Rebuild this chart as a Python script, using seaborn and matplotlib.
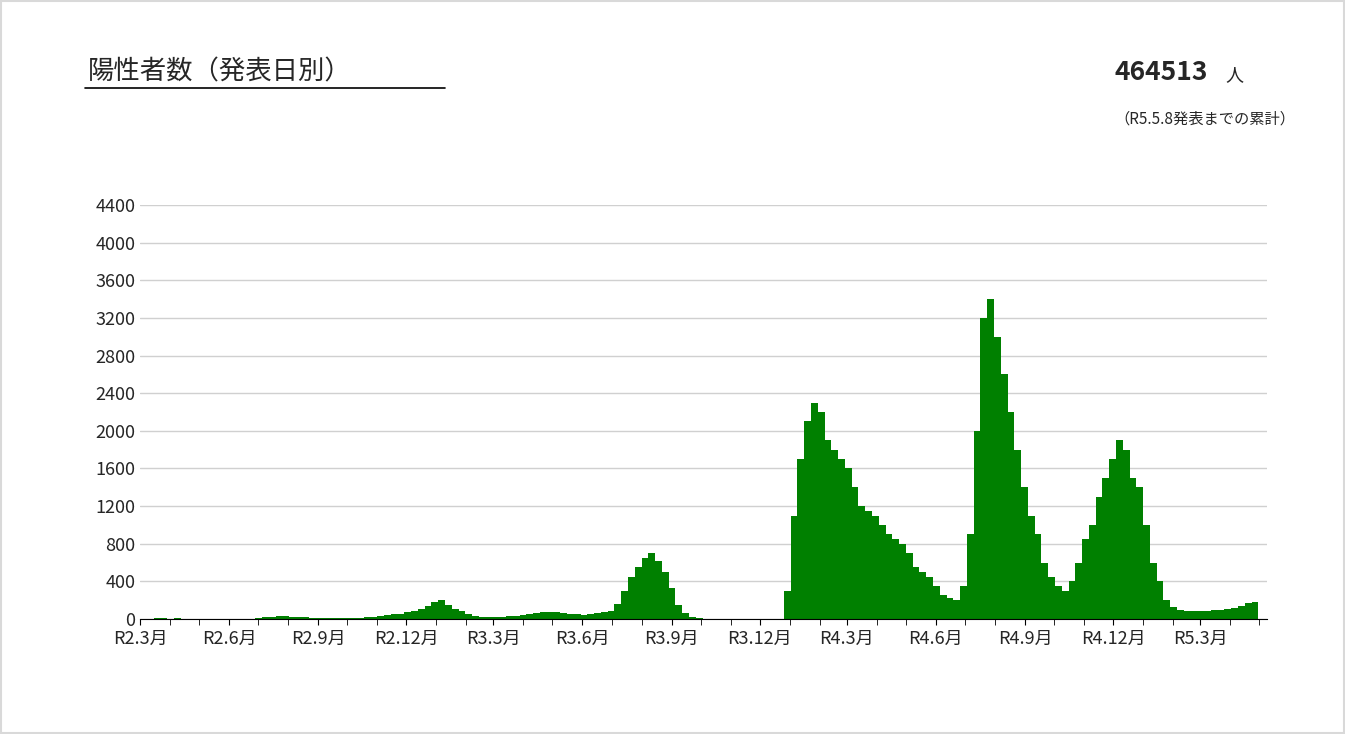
import matplotlib
matplotlib.use("Agg")
import matplotlib.pyplot as plt
import matplotlib.dates as mdates
import seaborn as sns
import pandas as pd
import numpy as np

# weekly peak-ish daily counts, weeks starting 2020-03-01
weekly_values = [
 3,5,8,6,5, 6,5,3,2, 1,1,0,1, 1,2,3,5, 10,18,25,30,28, 25,20,18,15, 12,10,12,10,
 10,12,15,18,20, 30,40,50,55, 70,90,110,140,
 180,200,150,110,80, 50,35,25,20, 20,25,30,30, 40,50,60,70, 75,70,60,55,50,
 45,50,60,70, 90,160,300,450, 550,650,700,620,500, 330,150,60,20, 8,5,3,2,
 1,1,1,1,1, 1,2,3,5,
 300,1100,1700,2100, 2300,2200,1900,1800, 1700,1600,1400,1200,1150,
 1100,1000,900,850, 800,700,550,500, 450,350,250,220,200, 350,900,2000,3200,
 3400,3000,2600,2200, 1800,1400,1100,900,600, 450,350,300,400, 600,850,1000,1300,
 1500,1700,1900,1800,1500,
 1400,1000,600,400, 200,130,100,90, 80,85,90,95, 100,110,120,140,170, 180,
]
tick_labels = ["R2.3月","R2.6月","R2.9月","R2.12月","R3.3月","R3.6月","R3.9月",
               "R3.12月","R4.3月","R4.6月","R4.9月","R4.12月","R5.3月"]
tick_dates = pd.date_range("2020-03-01", periods=len(tick_labels), freq="3MS")

week_starts = pd.date_range("2020-03-01", periods=len(weekly_values), freq="7D")
x = mdates.date2num(week_starts)
df = pd.DataFrame({"x": x + 3.5, "v": weekly_values})

sns.set_style("white")
plt.rcParams['font.family'] = ['Noto Sans CJK JP', 'DejaVu Sans']

fig = plt.figure(figsize=(13.45, 7.34), dpi=100)
ax = fig.add_axes([140/1345, 115/734, 1127/1345, 414/734])
ax.set_axisbelow(True)
sns.histplot(data=df, x="x", weights="v", binwidth=7,
             binrange=(float(x[0]), float(x[-1] + 7)), color="#008000",
             alpha=1, linewidth=0, ax=ax)
ax.set_xlim(mdates.date2num(pd.Timestamp("2020-03-01")), mdates.date2num(pd.Timestamp("2023-05-09")))
ax.set_ylim(0, 4400)
ax.set_yticks(range(0, 4401, 400))
ax.yaxis.grid(True, color="#d0d0d0", linewidth=1)
ax.set_xticks(mdates.date2num(tick_dates))
ax.set_xticklabels(tick_labels)
ax.set_xticks(mdates.date2num(pd.date_range("2020-03-01", "2023-05-01", freq="MS")), minor=True)
ax.tick_params(axis="x", which="both", direction="out", length=4, color="black", labelsize=13, bottom=True)
ax.tick_params(axis="y", labelsize=13, length=0)
for s in ["top", "right", "left"]:
    ax.spines[s].set_visible(False)
ax.spines["bottom"].set_color("black")
ax.set_xlabel("")
ax.set_ylabel("")

fig.text(88/1345, 1 - 72/734, "陽性者数（発表日別）", fontsize=19, va="center", ha="left")
fig.add_artist(plt.Line2D([85/1345, 445/1345], [1 - 88/734, 1 - 88/734], color="black", linewidth=1.2))
fig.text(1208/1345, 1 - 72/734, "464513", fontsize=19, fontweight="bold", va="center", ha="right")
fig.text(1225/1345, 1 - 75/734, "人", fontsize=13, va="center", ha="left")
fig.text(1295/1345, 1 - 119/734, "（R5.5.8発表までの累計）", fontsize=11, va="center", ha="right")
fig.add_artist(plt.Rectangle((1/1345, 1/734), 1343/1345, 732/734, fill=False, edgecolor="#d9d9d9", linewidth=1.5, transform=fig.transFigure))

fig.savefig("out.png", dpi=100)
